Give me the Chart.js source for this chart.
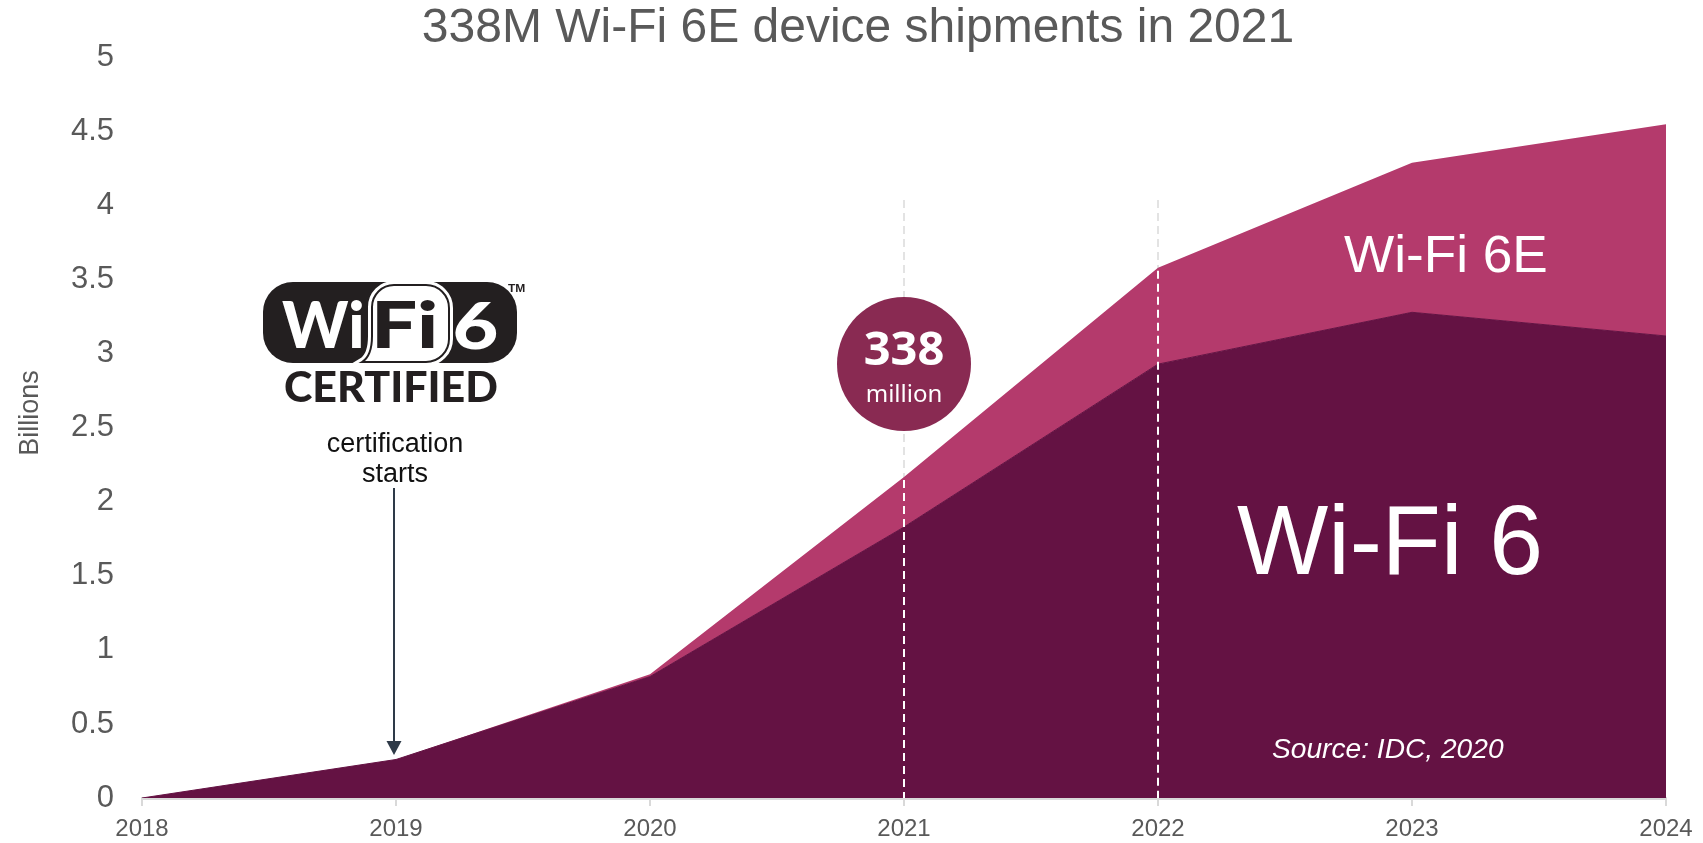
<!DOCTYPE html>
<html><head><meta charset="utf-8">
<script src="https://cdn.jsdelivr.net/npm/chart.js@4.4.1/dist/chart.umd.min.js"></script>
<style>html,body{margin:0;padding:0;background:#fff;}#wrap{width:1703px;height:843px;}</style>
</head><body><div id="wrap"><canvas id="c" width="1703" height="843"></canvas></div>
<script>
// ---- data ----
const years = ['2018','2019','2020','2021','2022','2023','2024'];
const wifi6 = [0, 0.26, 0.82, 1.83, 2.93, 3.28, 3.12];
const wifi6e = [0, 0, 0.015, 0.338, 0.65, 1.01, 1.43];
const yTicks = [0, 0.5, 1, 1.5, 2, 2.5, 3, 3.5, 4, 4.5, 5];
const markedYears = ['2021', '2022'];
const certYear = '2019';
const bubbleYear = '2021';
const titleText = '338M Wi-Fi 6E device shipments in 2021';

const C_DARK = '#641243', C_PINK = '#B43A6C', C_BUBBLE = '#892A52', GREY = '#595959';
const SANS = '"Liberation Sans", Arial, sans-serif';
const HEAVY = 'Lato, Roboto, "Noto Sans", sans-serif';

function fitText(ctx, text, x, y, w, font, color) {
  ctx.save();
  ctx.font = font; ctx.fillStyle = color; ctx.textAlign = 'left'; ctx.textBaseline = 'alphabetic';
  const m = ctx.measureText(text);
  const gw = m.actualBoundingBoxRight + m.actualBoundingBoxLeft;
  const s = w / gw;
  ctx.translate(x + m.actualBoundingBoxLeft * s, y);
  ctx.scale(s, 1);
  ctx.fillText(text, 0, 0);
  ctx.restore();
}

function fiPath(ctx) {
  ctx.beginPath();
  ctx.moveTo(394, 285);
  ctx.lineTo(426, 285);
  ctx.arcTo(449, 285, 449, 308, 23);
  ctx.lineTo(449, 339);
  ctx.arcTo(449, 362, 426, 362, 23);
  ctx.lineTo(362, 362);
  ctx.quadraticCurveTo(372, 356, 372, 336);
  ctx.lineTo(372, 307);
  ctx.arcTo(372, 285, 394, 285, 22);
  ctx.closePath();
}

function drawLogo(ctx) {
  ctx.save();
  ctx.fillStyle = '#231F20';
  ctx.beginPath(); ctx.roundRect(263, 282, 254, 81, 30); ctx.fill();
  ctx.beginPath(); ctx.roundRect(263, 282, 254, 81, 30); ctx.clip();
  fiPath(ctx);
  ctx.strokeStyle = '#fff'; ctx.lineWidth = 8; ctx.stroke();
  ctx.fillStyle = '#fff'; ctx.fill();
  ctx.strokeStyle = '#231F20'; ctx.lineWidth = 2; ctx.stroke();
  ctx.restore();
  fitText(ctx, 'Wi', 282, 348, 80, '900 64px ' + HEAVY, '#fff');
  fitText(ctx, 'Fi', 376, 348, 59, '900 64px ' + HEAVY, '#231F20');
  fitText(ctx, '6', 455, 349, 42, '900 64px ' + HEAVY, '#fff');
  fitText(ctx, 'TM', 508, 292, 17, 'bold 10px ' + SANS, '#231F20');
  fitText(ctx, 'CERTIFIED', 285, 402, 212, '900 42px ' + HEAVY, '#231F20');
}

const annot = {
  id: 'annot',
  beforeDatasetsDraw(chart) {
    const {ctx, scales: {x}, chartArea} = chart;
    ctx.save();
    ctx.setLineDash([8, 5]); ctx.lineWidth = 2; ctx.strokeStyle = '#E3E3E3';
    markedYears.forEach(yr => {
      const px = Math.round(x.getPixelForValue(years.indexOf(yr)));
      ctx.beginPath(); ctx.moveTo(px, 200); ctx.lineTo(px, chartArea.bottom); ctx.stroke();
    });
    ctx.restore();
  },
  afterDatasetsDraw(chart) {
    const {ctx, scales: {x, y}, chartArea} = chart;
    // white dashes inside the area
    ctx.save();
    ctx.setLineDash([8, 5]); ctx.lineWidth = 2; ctx.strokeStyle = '#FFFFFF';
    markedYears.forEach(yr => {
      const i = years.indexOf(yr);
      const px = Math.round(x.getPixelForValue(i));
      const top = y.getPixelForValue(wifi6[i] + wifi6e[i]) + 3;
      ctx.beginPath(); ctx.moveTo(px, top); ctx.lineTo(px, chartArea.bottom); ctx.stroke();
    });
    ctx.restore();

    // bubble
    const bi = years.indexOf(bubbleYear);
    const bx = x.getPixelForValue(bi);
    ctx.save();
    ctx.fillStyle = C_BUBBLE;
    ctx.beginPath(); ctx.arc(bx, 364, 67, 0, Math.PI * 2); ctx.fill();
    ctx.fillStyle = '#fff'; ctx.textAlign = 'center'; ctx.textBaseline = 'alphabetic';
    ctx.font = 'bold 47px "Noto Sans", "Open Sans", sans-serif';
    ctx.fillText(String(Math.round(wifi6e[bi] * 1000)), bx, 365);
    ctx.font = '24px "Noto Sans", "Open Sans", sans-serif';
    ctx.fillText('million', bx, 402);
    ctx.restore();

    // labels in the areas
    fitText(ctx, 'Wi-Fi 6E', 1344, 272, 202, '52px ' + SANS, '#fff');
    fitText(ctx, 'Wi-Fi 6', 1237, 574, 302, '99px ' + SANS, '#fff');
    fitText(ctx, 'Source: IDC, 2020', 1272, 758, 232, 'italic 28px ' + SANS, '#fff');

    // logo
    drawLogo(ctx);

    // certification note + arrow
    const ax = Math.round(x.getPixelForValue(years.indexOf(certYear))) - 2;
    ctx.save();
    ctx.fillStyle = '#111'; ctx.textAlign = 'center'; ctx.textBaseline = 'alphabetic';
    ctx.font = '27px ' + SANS;
    ctx.fillText('certification', ax + 1, 452);
    ctx.fillText('starts', ax + 1, 482);
    ctx.strokeStyle = '#2E3A48'; ctx.fillStyle = '#2E3A48'; ctx.lineWidth = 2;
    ctx.beginPath(); ctx.moveTo(ax, 488); ctx.lineTo(ax, 742); ctx.stroke();
    ctx.beginPath(); ctx.moveTo(ax - 7.5, 741); ctx.lineTo(ax + 7.5, 741); ctx.lineTo(ax, 755); ctx.closePath(); ctx.fill();
    ctx.restore();

    // y axis title
    ctx.save();
    ctx.translate(38, 413); ctx.rotate(-Math.PI / 2);
    ctx.fillStyle = GREY; ctx.font = '27px ' + SANS; ctx.textAlign = 'center'; ctx.textBaseline = 'alphabetic';
    ctx.fillText('Billions', 0, 0);
    ctx.restore();
  }
};

new Chart(document.getElementById('c'), {
  type: 'line',
  data: {
    labels: years,
    datasets: [
      { label: 'Wi-Fi 6', data: wifi6, fill: 'origin', backgroundColor: C_DARK, borderColor: C_DARK,
        borderWidth: 1, pointRadius: 0, tension: 0 },
      { label: 'Wi-Fi 6E', data: wifi6e, fill: '-1', backgroundColor: C_PINK, borderColor: C_PINK,
        borderWidth: 0, pointRadius: 0, tension: 0 }
    ]
  },
  options: {
    responsive: false, animation: false, devicePixelRatio: 1,
    layout: { padding: { left: 50, right: 37, top: 0, bottom: 0 } },
    plugins: {
      legend: { display: false }, tooltip: { enabled: false },
      title: { display: true, text: titleText, color: GREY, padding: { top: 0, bottom: 0 },
        font: { family: SANS, size: 48, weight: 'normal', lineHeight: 1.2 } }
    },
    scales: {
      x: {
        type: 'category', offset: false,
        grid: { display: true, drawOnChartArea: false, drawTicks: true, tickLength: 8, color: '#D9D9D9', lineWidth: 2 },
        border: { display: true, color: '#D9D9D9', width: 3 },
        ticks: { color: GREY, font: { family: SANS, size: 24 }, padding: 9, maxRotation: 0, autoSkip: false },
        afterFit(s) { s.height = 45; s.paddingLeft = 0; s.paddingRight = 0; }
      },
      y: {
        stacked: true, min: 0, max: 5,
        grid: { display: false, drawTicks: false },
        border: { display: false },
        ticks: { color: GREY, font: { family: SANS, size: 31 }, padding: 28, callback: v => String(v) },
        afterBuildTicks(s) { s.ticks = yTicks.map(v => ({ value: v })); },
        afterFit(s) { s.width = 92; s.paddingTop = 0; s.paddingBottom = 0; }
      }
    }
  },
  plugins: [annot]
});
</script></body></html>
